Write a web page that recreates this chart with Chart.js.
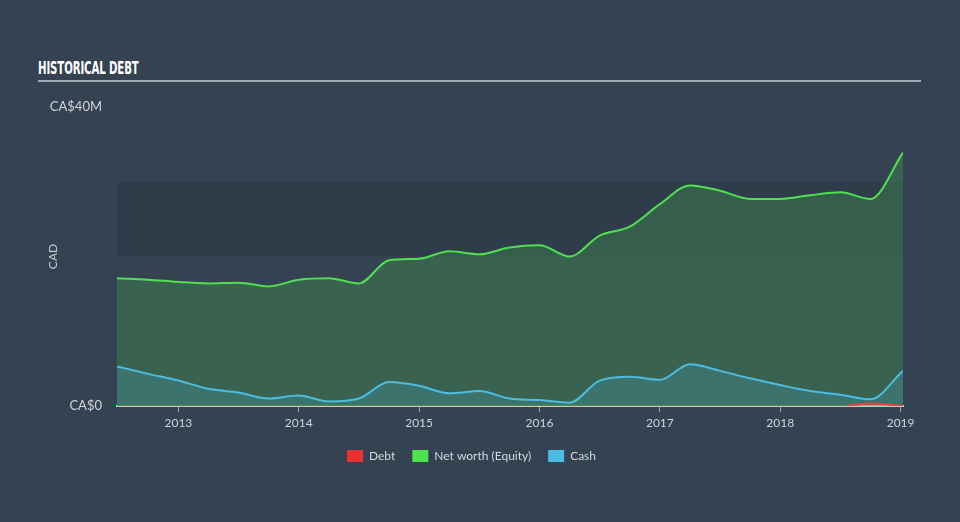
<!DOCTYPE html>
<html>
<head>
<meta charset="utf-8">
<script src="https://cdn.jsdelivr.net/npm/chart.js@4"></script>
<style>
  html,body{margin:0;padding:0;}
  body{width:960px;height:522px;background:#344252;position:relative;overflow:hidden;font-family:"Lato","Open Sans",sans-serif;}
  #title{position:absolute;left:38px;top:57px;color:#ffffff;font-family:"Liberation Sans Narrow","DejaVu Sans Condensed",sans-serif;font-weight:bold;font-size:18px;letter-spacing:-0.2px;transform-origin:left top;transform:scaleX(0.63);white-space:nowrap;}
  #rule{position:absolute;left:38px;top:80px;width:883px;height:2px;background:#a3aab3;}
  #wrap{position:absolute;left:0;top:0;width:960px;height:522px;}
</style>
</head>
<body>
<div id="title">HISTORICAL DEBT</div>
<div id="rule"></div>
<div id="wrap"><canvas id="c" width="960" height="522"></canvas></div>
<script>
// ---- data (values in CA$ millions, x in fractional years) ----
const dates = [2012.49, 2012.75, 2013.0, 2013.25, 2013.5, 2013.75, 2014.0, 2014.25, 2014.5, 2014.75, 2015.0, 2015.25, 2015.5, 2015.75, 2016.0, 2016.25, 2016.5, 2016.75, 2017.0, 2017.25, 2017.5, 2017.75, 2018.0, 2018.25, 2018.5, 2018.75, 2019.02];
const netWorth = [17.1, 16.9, 16.6, 16.4, 16.5, 16.0, 16.9, 17.1, 16.4, 19.5, 19.7, 20.7, 20.3, 21.2, 21.5, 20.0, 22.8, 24.0, 27.0, 29.5, 28.8, 27.7, 27.7, 28.2, 28.6, 27.7, 33.9];
const cash = [5.3, 4.3, 3.4, 2.3, 1.8, 1.0, 1.4, 0.6, 1.0, 3.2, 2.7, 1.7, 2.0, 1.0, 0.8, 0.45, 3.4, 3.9, 3.5, 5.6, 4.7, 3.7, 2.8, 2.0, 1.5, 0.9, 4.7];
const debt = [0, 0, 0, 0, 0, 0, 0, 0, 0, 0, 0, 0, 0, 0, 0, 0, 0, 0, 0, 0, 0, 0, 0, 0, 0, 0.35, 0];
const yearTicks = [2013, 2014, 2015, 2016, 2017, 2018, 2019];
const yTicks = [0, 40];
const yTickLabels = ['CA$0', 'CA$40M'];
const seriesNames = ['Debt', 'Net worth (Equity)', 'Cash'];
const bandRange = [20, 30];

const pts = arr => arr.map((v, i) => ({x: dates[i], y: v}));

const bandPlugin = {
  id: 'band',
  beforeDatasetsDraw(chart) {
    const {ctx, chartArea, scales} = chart;
    const y1 = scales.y.getPixelForValue(bandRange[1]);
    const y0 = scales.y.getPixelForValue(bandRange[0]);
    ctx.save();
    ctx.fillStyle = 'rgba(0,0,0,0.085)';
    ctx.fillRect(chartArea.left, y1, chartArea.right - chartArea.left, y0 - y1);
    ctx.restore();
  }
};

new Chart(document.getElementById('c'), {
  type: 'line',
  data: {
    datasets: [
      {label: seriesNames[0], data: pts(debt), borderColor: '#e0473c', backgroundColor: 'rgba(232,48,47,0.25)', fill: 'origin', borderWidth: 2, pointRadius: 0, cubicInterpolationMode: 'monotone', order: 0},
      {label: seriesNames[2], data: pts(cash), borderColor: '#4bbde0', backgroundColor: 'rgba(75,189,224,0.2)', fill: 'origin', borderWidth: 2, pointRadius: 0, cubicInterpolationMode: 'monotone', order: 1},
      {label: seriesNames[1], data: pts(netWorth), borderColor: '#50e050', backgroundColor: 'rgba(78,228,78,0.2)', fill: 'origin', borderWidth: 2, pointRadius: 0, cubicInterpolationMode: 'monotone', order: 2}
    ]
  },
  options: {
    responsive: false,
    animation: false,
    layout: {padding: {left: 40, right: 57, top: 107, bottom: 50}},
    plugins: {
      legend: {
        position: 'bottom',
        labels: {
          boxWidth: 16, boxHeight: 12, padding: 17, color: '#d4d8dd',
          font: {family: 'Lato', size: 12},
          generateLabels(chart) {
            const cols = {'Debt': '#e8302f', 'Net worth (Equity)': '#4ee44e', 'Cash': '#4bbde0'};
            return seriesNames.map(name => {
              const i = chart.data.datasets.findIndex(d => d.label === name);
              return {
                text: name, fillStyle: cols[name], strokeStyle: cols[name], lineWidth: 0,
                fontColor: '#d4d8dd', datasetIndex: i, hidden: false
              };
            });
          }
        }
      },
      tooltip: {enabled: false}
    },
    scales: {
      x: {
        type: 'linear',
        min: dates[0], max: dates[dates.length - 1],
        afterBuildTicks: s => { s.ticks = yearTicks.map(v => ({value: v})); },
        afterFit: s => { s.height = 27; },
        ticks: {color: '#d0d4d9', font: {family: 'Lato', size: 12}, padding: 4, maxRotation: 0, callback: v => String(v)},
        grid: {display: true, drawOnChartArea: false, drawTicks: true, tickLength: 6, color: '#9aa2ab', lineWidth: 1},
        border: {display: true, color: '#c3c8ce', width: 2}
      },
      y: {
        min: 0, max: 40,
        afterBuildTicks: s => { s.ticks = yTicks.map(v => ({value: v})); },
        afterFit: s => { s.width = 77; },
        ticks: {color: '#d0d4d9', font: {family: 'Lato', size: 13}, padding: 15, callback: v => yTickLabels[yTicks.indexOf(v)]},
        grid: {display: false, drawTicks: false},
        border: {display: false},
        title: {display: true, text: 'CAD', color: '#c8ccd2', font: {family: 'Lato', size: 12}, padding: {top: 6, bottom: 0}}
      }
    }
  },
  plugins: [bandPlugin]
});
</script>
</body>
</html>
